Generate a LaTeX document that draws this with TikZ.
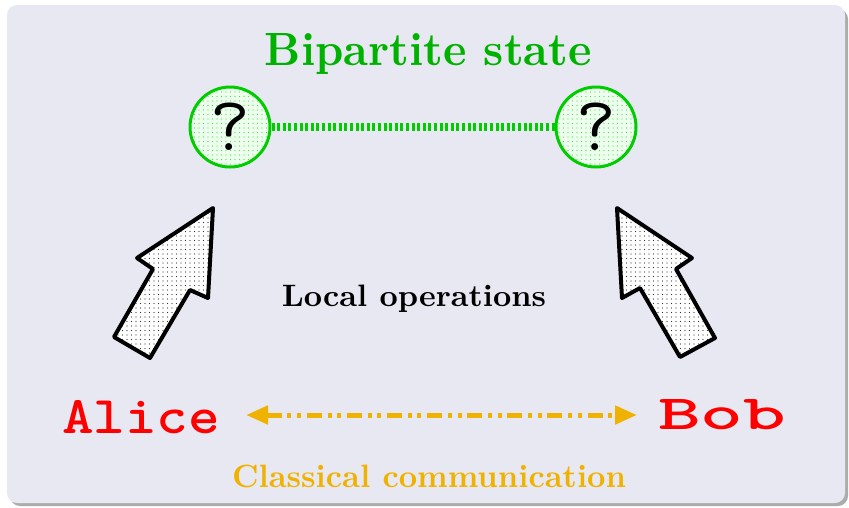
\documentclass[tikz,border=0pt]{standalone}
\usepackage{fontspec}
\usepackage{graphicx}
\usetikzlibrary{arrows.meta,patterns}
\definecolor{bgc}{RGB}{232,232,242}
\definecolor{titlegreen}{RGB}{0,178,0}
\definecolor{bondgreen}{RGB}{0,204,0}
\definecolor{commorange}{RGB}{240,178,0}
\definecolor{namered}{RGB}{255,0,0}
\pgfdeclarepatternformonly{sparsedots}{\pgfpoint{-1pt}{-1pt}}{\pgfpoint{4.5pt}{4.5pt}}{\pgfpoint{4.5pt}{4.5pt}}{%
  \pgfpathcircle{\pgfpoint{1pt}{1pt}}{0.7pt}\pgfusepath{fill}}
\tikzset{
  qcirc/.style={circle, minimum size=80pt, inner sep=0pt, draw=bondgreen, line width=3pt,
    preaction={fill=green!7!white}, pattern=sparsedots, pattern color=bondgreen!70},
  bond/.style={draw=bondgreen, line width=8pt, dash pattern=on 3pt off 2.6pt},
  blockarrow/.style={draw=black, line width=4pt, line join=round,
    preaction={fill=white}, pattern=sparsedots, pattern color=black!80},
  comm/.style={draw=commorange, line width=5pt,
    dash pattern=on 15pt off 5.7pt on 4pt off 5.7pt on 4pt off 5.7pt,
    {Triangle[length=22pt,width=18pt]}-{Triangle[length=22pt,width=18pt]}},
  lbl/.style={anchor=base, inner sep=0pt},
  person/.style={lbl, text=namered, font=\ttfamily\bfseries},
  qmark/.style={font=\ttfamily\fontsize{77}{77}\selectfont}
}
\begin{document}
\begin{tikzpicture}[x=1pt,y=-1pt]
\useasboundingbox (0,0) rectangle (849,507);
\fill[gray!65, rounded corners=10pt] (10,9) rectangle (848,506);
\fill[bgc, rounded corners=10pt] (7,5) rectangle (845,503);

\node[lbl, text=titlegreen] (title) at (428.5,65) {\resizebox{327pt}{32pt}{\bfseries Bipartite state}};

\node[qcirc, qmark] (qa) at (230,127) {?};
\node[qcirc, qmark] (qb) at (596,127) {?};
\draw[bond] (qa) -- (qb);

\filldraw[blockarrow] (213,208) -- (137,258) -- (153,269) -- (114,337) -- (150,358) -- (190,290) -- (208,298) -- cycle;
\filldraw[blockarrow] (617,208) -- (692,258) -- (676,269) -- (715,338) -- (680,357) -- (640,288) -- (622,298) -- cycle;

\node[lbl] (local) at (414,306) {\resizebox{264pt}{21.5pt}{\bfseries Local operations}};

\node[person] (alice) at (141,433) {\resizebox{158pt}{33pt}{Alice}};
\node[person] (bob) at (722,429) {\resizebox{128pt}{30pt}{Bob}};

\coordinate (cl) at (246,415);
\coordinate (cr) at (637,415);
\draw[comm] (cl) -- (cr);

\node[lbl, text=commorange] (classical) at (429,487) {\resizebox{394pt}{22.5pt}{\bfseries Classical communication}};
\end{tikzpicture}
\end{document}
